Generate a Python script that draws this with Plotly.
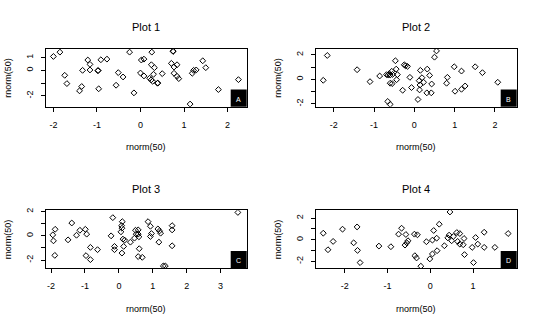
import plotly.graph_objects as go

# Four panels of rnorm(50) vs rnorm(50), base-graphics look
titles = ["Plot 1", "Plot 2", "Plot 3", "Plot 4"]
tags = ["A", "B", "C", "D"]
axis_label = "rnorm(50)"

x1 = [-2.00, -1.85, -1.74, -1.69, -1.40, -1.35, -1.33, -1.21, -1.16, -1.16,
      -0.98, -0.97, -0.96, -0.91, -0.77, -0.56, -0.51, -0.40, -0.25, -0.15,
      0.00, 0.02, 0.08, 0.08, 0.21, 0.245, 0.28, 0.25, 0.26, 0.30,
      0.32, 0.39, 0.40, 0.50, 0.75, 0.75, 0.71, 0.77, 0.77, 0.84,
      0.84, 0.88, 1.14, 1.19, 1.22, 1.28, 1.43, 1.50, 1.79, 2.25]
y1 = [1.09, 1.43, -0.39, -1.04, -1.61, -1.27, 0.00, 0.81, 0.47, 0.03,
      -0.03, -0.01, -1.45, 0.83, 0.88, -1.17, -0.18, -0.52, 1.43, -1.77,
      -0.21, 0.81, 0.88, -0.44, -0.62, -0.75, -0.86, 0.44, 1.43, -0.31,
      0.21, -1.01, -1.00, -0.26, 1.48, 1.52, 0.55, 0.26, -0.23, 0.44,
      -0.47, -0.65, -2.65, -0.23, 0.00, 0.03, 0.75, 0.21, -1.51, -0.73]

x2 = [-2.26, -2.16, -1.42, -1.10, -0.86, -0.69, -0.65, -0.60, -0.62, -0.54,
      -0.56, -0.60, -0.55, -0.66, -0.60, -0.45, -0.47, -0.42, -0.44, -0.29,
      -0.25, -0.22, -0.17, -0.11, -0.07, 0.09, 0.15, 0.19, 0.12, 0.23,
      0.14, 0.13, 0.31, 0.42, 0.32, 0.38, 0.43, 0.50, 0.55, 0.80,
      0.82, 0.99, 1.01, 1.17, 1.17, 1.26, 1.51, 1.69, 2.07, 2.35]
y2 = [-0.08, 1.94, 0.78, -0.19, 0.27, 0.38, 0.35, 0.35, 0.46, 0.40,
      0.65, -0.32, -0.35, -1.80, -2.04, 0.83, 1.51, 0.38, -0.03, -0.89,
      1.18, 1.10, 1.05, 0.16, -0.67, -1.64, 0.73, 0.13, -0.11, -0.24,
      -0.46, -0.86, -1.10, -1.10, 0.83, 0.32, -0.38, 1.80, 2.31, -0.32,
      0.16, 1.02, -0.97, 0.67, -0.81, -0.54, 1.02, 0.54, -0.24, -1.60]

x3 = [-1.95, -1.93, -1.88, -1.89, -1.50, -1.39, -1.25, -1.15, -0.99, -0.95,
      -0.84, -0.97, -0.84, -0.63, -0.18, -0.23, -0.13, -0.13, 0.10, 0.08,
      0.09, 0.06, 0.12, 0.17, 0.14, 0.09, 0.34, 0.46, 0.51, 0.49,
      0.57, 0.57, 0.59, 0.60, 0.57, 0.69, 0.86, 0.93, 0.96, 0.93,
      1.15, 1.20, 1.23, 1.18, 1.57, 1.57, 1.57, 1.31, 1.37, 3.51]
y3 = [0.08, -0.41, 0.54, -1.61, -0.33, 1.06, 0.05, 0.46, 0.54, 0.14,
      -0.95, -1.63, -1.96, -1.14, 1.50, 0.00, -0.87, -1.14, 1.17, 0.84,
      0.63, 0.33, -0.27, -0.35, -0.87, -1.42, -0.52, -0.19, 0.14, 0.46,
      0.49, 0.14, -0.08, -1.06, -1.71, -1.77, 1.17, 0.79, 0.19, -0.05,
      0.57, 0.41, 0.22, -0.52, 0.84, 0.49, -0.82, -2.48, -2.48, 1.93]

x4 = [-2.50, -2.39, -2.27, -2.05, -1.71, -1.79, -1.70, -1.64, -1.20, -0.92,
      -0.67, -0.74, -0.57, -0.52, -0.55, -0.59, -0.37, -0.30, -0.36, -0.32,
      -0.22, -0.09, -0.01, 0.05, 0.05, 0.08, 0.15, 0.16, 0.21, 0.33,
      0.46, 0.44, 0.41, 0.50, 0.54, 0.62, 0.69, 0.79, 0.77, 0.64,
      0.69, 0.80, 0.98, 1.06, 1.11, 1.26, 1.26, 1.51, 1.01, 1.82]
y4 = [0.61, -0.92, -0.15, 0.98, 1.19, -0.28, -0.98, -2.11, -0.58, -0.64,
      1.07, 0.52, 0.49, -0.09, -0.28, -0.49, 0.52, 0.46, -1.47, -1.68,
      -2.44, -0.18, -1.77, -1.31, -0.03, 0.86, 0.15, -1.01, 1.44, -0.55,
      2.57, 0.43, 0.18, -0.09, 0.31, 0.67, 0.58, 0.12, -0.46, -0.15,
      -0.40, -1.37, -0.70, 0.21, -0.40, 0.70, -0.70, -0.70, -2.11, 0.58]

xs = [x1, x2, x3, x4]
ys = [y1, y2, y3, y4]

x_ranges = [[-2.17, 2.44], [-2.44, 2.54], [-2.15, 3.77], [-2.67, 2.02]]
y_ranges = [[-2.86, 1.71], [-2.23, 2.50], [-2.67, 2.10], [-2.63, 2.72]]
x_ticks = [[-2, -1, 0, 1, 2], [-2, -1, 0, 1, 2], [-2, -1, 0, 1, 2, 3], [-2, -1, 0, 1]]
y_ticks = [[-2, -1, 0, 1], [-2, -1, 0, 1, 2], [-2, -1, 0, 1, 2], [-2, -1, 0, 1, 2]]
y_ticktext = [["-2", "", "0", "1"], ["-2", "", "0", "", "2"],
              ["-2", "", "0", "", "2"], ["-2", "", "0", "", "2"]]

W, H = 540, 326
FONT = "Liberation Sans, Arial, sans-serif"

# panel plot-region boxes in pixels: (left, right, top, bottom)
boxes = [(46, 246.7, 46, 104.7), (316, 516.7, 46, 104.7),
         (46, 246.7, 209.3, 267.7), (316, 516.7, 209.3, 267.7)]

fig = go.Figure()
layout = dict(
    width=W, height=H, margin=dict(l=0, r=0, t=0, b=0),
    paper_bgcolor="white", plot_bgcolor="white", showlegend=False,
    font=dict(family=FONT, size=9, color="black"),
)
annotations = []
shapes = []

for i in range(4):
    n = "" if i == 0 else str(i + 1)
    L, R, T, B = boxes[i]
    xd = [L / W, R / W]
    yd = [1 - B / H, 1 - T / H]
    fig.add_trace(go.Scatter(
        x=xs[i], y=ys[i], mode="markers", xaxis="x" + n, yaxis="y" + n,
        marker=dict(symbol="diamond-open", size=4.5, color="black",
                    line=dict(width=1, color="black")),
    ))
    layout["xaxis" + n] = dict(
        domain=xd, range=x_ranges[i], anchor="y" + n, showgrid=False, zeroline=False,
        showline=True, mirror=True, linecolor="black", linewidth=1,
        ticks="outside", ticklen=4, tickcolor="black", tickwidth=1,
        tickvals=x_ticks[i], ticktext=[str(v) for v in x_ticks[i]],
        tickfont=dict(size=9, family=FONT, color="black"), ticklabelstandoff=5,
        fixedrange=True,
    )
    layout["yaxis" + n] = dict(
        domain=yd, range=y_ranges[i], anchor="x" + n, showgrid=False, zeroline=False,
        showline=True, mirror=True, linecolor="black", linewidth=1,
        ticks="outside", ticklen=4, tickcolor="black", tickwidth=1,
        tickvals=y_ticks[i], ticktext=y_ticktext[i], tickangle=-90,
        tickfont=dict(size=9, family=FONT, color="black"), ticklabelstandoff=4,
        fixedrange=True,
    )
    cx = (L + R) / 2
    cy = (T + B) / 2
    annotations.append(dict(text=titles[i], x=cx / W, y=1 - (T - 21.7) / H,
                            xref="paper", yref="paper", showarrow=False,
                            xanchor="center", yanchor="middle",
                            font=dict(size=11, family=FONT, color="black")))
    annotations.append(dict(text=axis_label, x=cx / W, y=1 - (B + 41) / H,
                            xref="paper", yref="paper", showarrow=False,
                            xanchor="center", yanchor="middle",
                            font=dict(size=9, family=FONT, color="black")))
    annotations.append(dict(text=axis_label, x=(L - 38) / W, y=1 - cy / H,
                            xref="paper", yref="paper", showarrow=False, textangle=-90,
                            xanchor="center", yanchor="middle",
                            font=dict(size=9, family=FONT, color="black")))
    # black tag box in the lower-right corner of each panel
    bw, bh = 16.0, 17.4
    shapes.append(dict(type="rect", xref="paper", yref="paper", layer="above",
                       x0=(R - bw) / W, x1=R / W, y0=1 - B / H, y1=1 - (B - bh) / H,
                       fillcolor="black", line=dict(width=0)))
    annotations.append(dict(text=tags[i], x=(R - bw / 2) / W, y=1 - (B - bh / 2 + 1) / H,
                            xref="paper", yref="paper", showarrow=False,
                            xanchor="center", yanchor="middle",
                            font=dict(size=7, family=FONT, color="white")))

layout["annotations"] = annotations
layout["shapes"] = shapes
fig.update_layout(**layout)
fig.write_html("out.html")
